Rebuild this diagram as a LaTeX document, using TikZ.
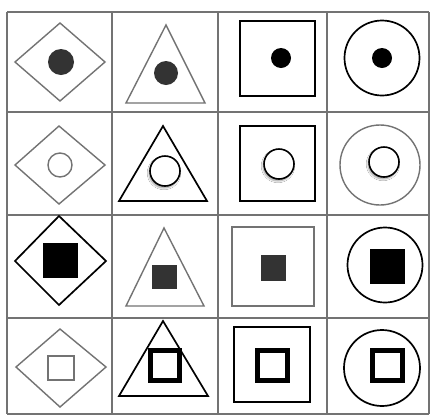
\documentclass[tikz,border=0pt]{standalone}
\usepackage{xcolor}
\usepackage{tikz}
\usetikzlibrary{shadows.blur}

\tikzset{
  rejilla/.style={draw=black!55, line width=2pt},
  gris/.style={draw=black!55, line width=1.4pt},
  negro/.style={draw=black, line width=1.7pt},
  oscuro/.style={fill=black!80},
  blanco/.style={fill=white, draw=black, line width=1.6pt,
    blur shadow={shadow xshift=-1pt, shadow yshift=-2pt, shadow blur steps=6, shadow opacity=40}},
  grueso/.style={draw=black, line width=4.5pt}
}

\begin{document}
\begin{tikzpicture}[x=1pt,y=-1pt]
    \useasboundingbox (0,0) rectangle (433,416);
    \fill[white] (0,0) rectangle (433,416);

    % rejilla 4x4
    \foreach \x in {7,112,218,327,429}
      \draw[rejilla] (\x,12) -- (\x,414);
    \foreach \y in {12,112,215,318,414}
      \draw[rejilla] (7,\y) -- (429,\y);

    % fila 1
    \draw[gris] (15,62) -- (60,23) -- (105,62) -- (60,101) -- cycle;
    \fill[black!80] (61,62) circle(13);
    \draw[gris] (166,25) -- (205,103) -- (126,103) -- cycle;
    \fill[black!80] (166,73) circle(12);
    \draw[negro] (240,21) rectangle (315,96);
    \fill (281,58) circle(10);
    \draw[negro] (382,58) circle(37.5);
    \fill (382,58) circle(10);

    % fila 2
    \draw[gris] (15,165) -- (59,126) -- (105,165) -- (59,204) -- cycle;
    \draw[gris] (60,165) circle(12);
    \draw[negro] (163,126) -- (207,201) -- (119,201) -- cycle;
    \draw[blanco] (165,171) circle(15);
    \draw[negro] (240,126) rectangle (315,201);
    \draw[blanco] (279,164) circle(15);
    \draw[gris] (380,165) circle(40);
    \draw[blanco] (384,162) circle(15);

    % fila 3
    \draw[negro] (15,261) -- (59,216) -- (106,261) -- (59,305) -- cycle;
    \fill (43,243) rectangle (78,278);
    \draw[gris] (164,228) -- (204,306) -- (126,306) -- cycle;
    \fill[black!80] (152,265) rectangle (177,289);
    \draw[gris] (232,227) rectangle (314,306);
    \fill[black!80] (261,255) rectangle (286,281);
    \draw[negro] (385,265) circle(37.5);
    \fill (370,249) rectangle (405,284);

    % fila 4
    \draw[gris] (16,367) -- (60,329) -- (106,367) -- (60,407) -- cycle;
    \draw[gris] (48,356) rectangle (74,380);
    \draw[negro] (163,321) -- (208,396) -- (119,396) -- cycle;
    \draw[grueso] (150.5,350.5) rectangle (179.5,380.5);
    \draw[negro] (234,327) rectangle (310,402);
    \draw[grueso] (257.5,350.5) rectangle (287.5,380.5);
    \draw[negro] (382,368) circle(38);
    \draw[grueso] (372.5,350.5) rectangle (402.5,380.5);
\end{tikzpicture}
\end{document}
